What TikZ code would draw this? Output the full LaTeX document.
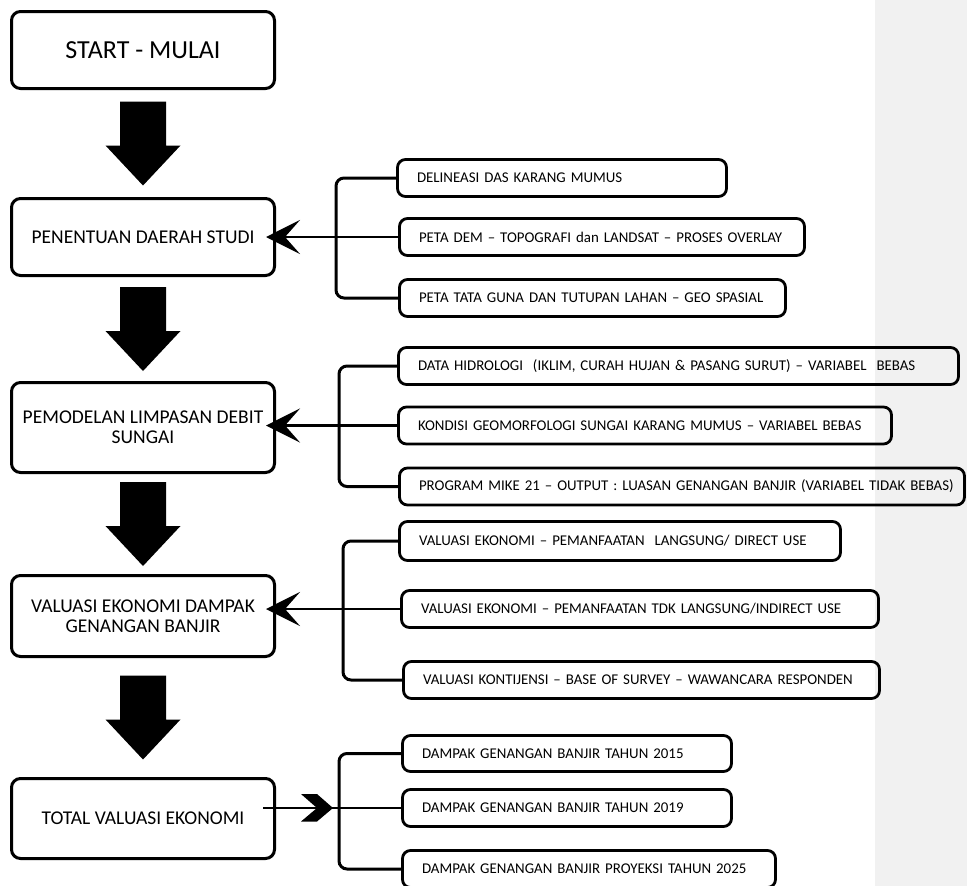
\documentclass[tikz,border=0pt]{standalone}
\usepackage{fontspec}
\setmainfont{Carlito}
\usetikzlibrary{arrows.meta,calc}
\definecolor{sidegray}{HTML}{F1F1F1}
\begin{document}
\begin{tikzpicture}[x=1pt,y=-1pt,
  mainbox/.style={draw, line width=3pt, rounded corners=9pt, minimum width=263pt,
    align=center, inner sep=0pt, font=\fontsize{19.5}{20}\selectfont},
  rbox/.style={draw, line width=2.8pt, rounded corners=8pt, align=left,
    inner xsep=19.5pt, inner ysep=0pt, minimum height=37pt,
    font=\fontsize{14.9}{17}\selectfont},
  brk/.style={line width=3pt, rounded corners=8pt},
  conn/.style={line width=2.5pt},
  lefttip/.style={-{Stealth[length=34pt,width=34pt,inset=15pt]}},
  bigarrow/.style={fill=black},
]
\useasboundingbox (0,0) rectangle (967,886);
\fill[sidegray] (875,0) rectangle (967,886);

% main column
\node[mainbox, minimum height=77pt, font=\fontsize{26}{28}\selectfont] (b1) at (143,50) {START - MULAI};
\node[mainbox, minimum height=77pt] (b2) at (143,237) {PENENTUAN DAERAH STUDI};
\node[mainbox, minimum height=90pt] (b3) at (143,427.5) {PEMODELAN LIMPASAN DEBIT\\SUNGAI};
\node[mainbox, minimum height=81pt] (b4) at (143,616) {VALUASI EKONOMI DAMPAK\\GENANGAN BANJIR};
\node[mainbox, minimum height=80pt] (b5) at (143,818.5) {TOTAL VALUASI EKONOMI};

% big down arrows
\foreach \a/\b/\m in {b1/b2/m1, b2/b3/m2, b3/b4/m3, b4/b5/m4}{
  \coordinate (\m) at ($(\a.south)!0.5!(\b.north)$);
  \fill[bigarrow, shift={(\m)}] (-23,-42) -- (23,-42) -- (23,2) -- (37.5,2) -- (0,42)
    -- (-37.5,2) -- (-23,2) -- cycle;
}

% group 1
\node[rbox, text width=290pt] (ra) at (562,178) {\mbox{DELINEASI DAS KARANG MUMUS}};
\node[rbox, text width=366pt] (rb) at (602,237) {\mbox{PETA DEM -- TOPOGRAFI dan LANDSAT -- PROSES OVERLAY}};
\node[rbox, text width=347pt] (rc) at (592.5,298) {\mbox{PETA TATA GUNA DAN TUTUPAN LAHAN -- GEO SPASIAL}};
\coordinate (k1) at (336,0);
\draw[brk] (ra.west) -- (ra.west -| k1) -- (rc.west -| k1) -- (rc.west);
\coordinate (e1) at ($(rb.west -| b2.east)+(-10,0)$);
\draw[conn, lefttip] (rb.west) -- (e1);

% group 2
\node[rbox, text width=521pt] (rd) at (678.5,366) {\mbox{DATA HIDROLOGI \ (IKLIM, CURAH HUJAN \& PASANG SURUT) -- VARIABEL \ BEBAS}};
\node[rbox, text width=454pt] (re) at (645,425.5) {\mbox{KONDISI GEOMORFOLOGI SUNGAI KARANG MUMUS -- VARIABEL BEBAS}};
\node[rbox, text width=526pt] (rf) at (682,486.5) {\mbox{PROGRAM MIKE 21 -- OUTPUT : LUASAN GENANGAN BANJIR (VARIABEL TIDAK BEBAS)}};
\coordinate (k2) at (339,0);
\draw[brk] (rd.west) -- (rd.west -| k2) -- (rf.west -| k2) -- (rf.west);
\coordinate (e2) at ($(re.west -| b3.east)+(-10,0)$);
\draw[conn, lefttip] (re.west) -- (e2);

% group 3
\node[rbox, text width=402pt, minimum height=39pt] (rg) at (620,541) {\mbox{VALUASI EKONOMI -- PEMANFAATAN \ LANGSUNG/ DIRECT USE}};
\node[rbox, text width=438pt] (rh) at (640,609) {\mbox{VALUASI EKONOMI -- PEMANFAATAN TDK LANGSUNG/INDIRECT USE}};
\node[rbox, text width=437pt] (ri) at (641.5,680) {\mbox{VALUASI KONTIJENSI -- BASE OF SURVEY -- WAWANCARA RESPONDEN}};
\coordinate (k3) at (343,0);
\draw[brk] (rg.west) -- (rg.west -| k3) -- (ri.west -| k3) -- (ri.west);
\coordinate (e3) at ($(rh.west -| b4.east)+(-10,0)$);
\draw[conn, lefttip] (rh.west) -- (e3);

% group 4
\node[rbox, text width=290pt, minimum height=36pt] (rj) at (567,753.5) {\mbox{DAMPAK GENANGAN BANJIR TAHUN 2015}};
\node[rbox, text width=290pt] (rk) at (567,808) {\mbox{DAMPAK GENANGAN BANJIR TAHUN 2019}};
\node[rbox, text width=334pt] (rl) at (589,869) {\mbox{DAMPAK GENANGAN BANJIR PROYEKSI TAHUN 2025}};
\coordinate (k4) at (339,0);
\draw[brk] (rj.west) -- (rj.west -| k4) -- (rl.west -| k4) -- (rl.west);
\coordinate (s4) at ($(rk.west -| b5.east)+(-13,0)$);
\draw[conn] (s4) -- (rk.west);
\coordinate (t4) at ($(rk.west -| k4)+(-6,0)$);
\fill[shift={(t4)}] (-32,-14) -- (-16,-14) -- (0,0) -- (-16,13.5) -- (-32,13.5) -- (-16,0) -- cycle;
\end{tikzpicture}
\end{document}
